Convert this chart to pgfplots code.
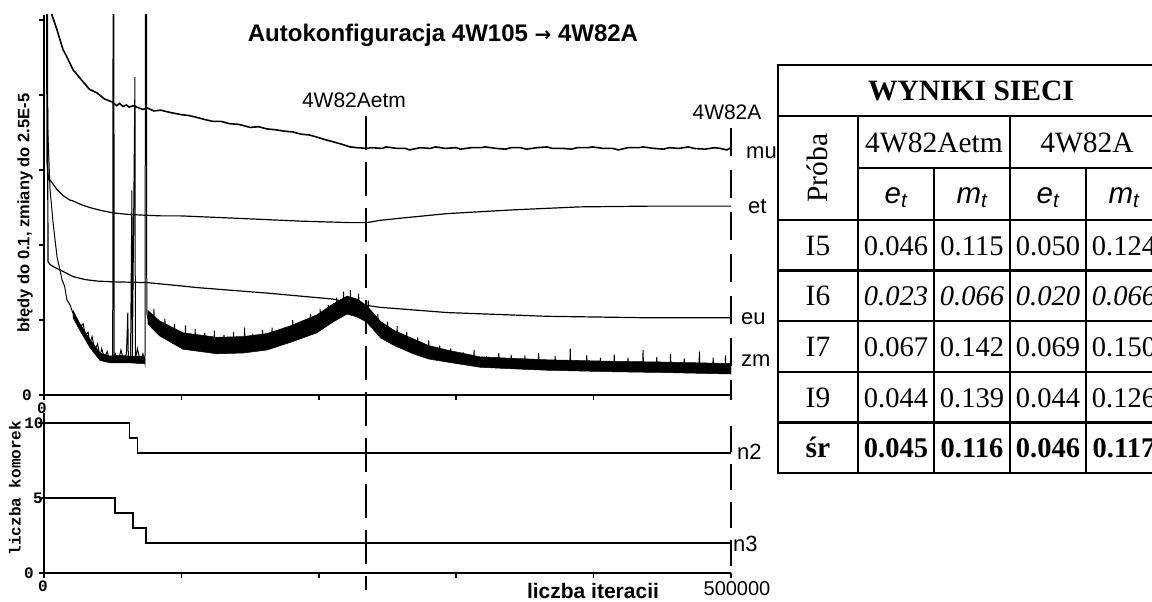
\documentclass[border=0pt]{standalone}
\usepackage{fontspec}
\setmainfont{Liberation Sans}
\newfontfamily\tabfont{Liberation Serif}
\newfontfamily\monofont{Liberation Mono}
\newfontfamily\arrowfont{DejaVu Sans}
\usepackage{pgfplots}
\pgfplotsset{compat=1.18}

% sizes in pt = pixels of the reference
\newcommand\lab{\fontsize{22pt}{26pt}\selectfont}
\newcommand\tic{\monofont\bfseries\fontsize{16pt}{18pt}\selectfont}
\newcommand\tf{\tabfont\fontsize{29.5pt}{32pt}\selectfont}
\newcommand\tn{\tabfont\fontsize{28.5pt}{32pt}\selectfont}
\newcommand\et{{\fontsize{29.5pt}{32pt}\selectfont\itshape e\textsubscript{t}}}
\newcommand\mt{{\fontsize{29.5pt}{32pt}\selectfont\itshape m\textsubscript{t}}}

\pgfplotsset{
  trace/.style={
    scale only axis, width=687pt,
    xmin=0, xmax=500000,
    axis x line=bottom, axis y line=left,
    axis line style={-, line width=1.5pt},
    tick align=outside, major tick length=5pt,
    tick style={black, line width=1.5pt},
    xtick={0,100000,200000,300000,400000,500000},
    xticklabel=\empty, yticklabel=\empty,
    scaled x ticks=false,
  },
}

\begin{document}
\begin{tikzpicture}
\path[use as bounding box] (0,0) rectangle (1152pt,-602pt);

% upper axis: errors and changes
\begin{axis}[trace, at={(44pt,-395pt)}, anchor=south west,
  height=380pt, ymin=0, ymax=5.07, ytick={0,1,2,3,4,5}]

% mu
\addplot[black, line width=1.6pt] coordinates {
  (4000,5.6) (5800,5.07) (9500,4.87) (13800,4.61) (16700,4.51) (21100,4.34)
  (28400,4.18) (33000,4.08) (38600,4.03) (44000,3.95) (49500,3.91) (53000,3.86)
  (55000,3.89) (57500,3.85) (60000,3.87) (62000,3.84) (65000,3.86) (67700,3.84)
  (72000,3.81) (75000,3.83) (80000,3.79) (85000,3.80) (91700,3.77) (100000,3.74)
  (105000,3.73) (110000,3.71) (116000,3.68) (123000,3.65) (129000,3.65)
  (135000,3.62) (142000,3.61) (150000,3.57) (156000,3.58) (162300,3.55)
  (168000,3.54) (175000,3.52) (181000,3.51) (187000,3.48) (193000,3.47)
  (198700,3.44) (204000,3.41) (210000,3.38) (216000,3.35) (222700,3.31)
  (228000,3.30) (235000,3.29) (238000,3.30) (246000,3.29) (249000,3.31)
  (257000,3.29) (263000,3.29) (266000,3.27) (274000,3.30) (281000,3.29)
  (285000,3.31) (292000,3.29) (300000,3.30) (303000,3.28) (311000,3.30)
  (318000,3.30) (321000,3.31) (329000,3.29) (336000,3.28) (340000,3.30)
  (347000,3.30) (351000,3.28) (359000,3.30) (366000,3.31) (370000,3.29)
  (378000,3.29) (384000,3.28) (388000,3.30) (396000,3.30) (399000,3.31)
  (407000,3.29) (414000,3.29) (418000,3.27) (425000,3.30) (433000,3.30)
  (436000,3.31) (444000,3.29) (451000,3.28) (455000,3.30) (462000,3.29)
  (469000,3.31) (473000,3.29) (481000,3.28) (488000,3.30) (492000,3.29)
  (497000,3.27) (500000,3.30)
};

% et
\addplot[black, line width=1.2pt] coordinates {
  (0,6) (1800,6) (2200,3.10) (3300,2.87) (4400,2.87) (9500,2.74) (14000,2.66)
  (18900,2.60) (21100,2.59) (27000,2.54) (33500,2.50) (42000,2.46) (50200,2.43)
  (61000,2.41) (72000,2.40) (85000,2.39) (99000,2.39) (137600,2.36)
  (186300,2.32) (222700,2.30) (235000,2.30) (244500,2.33) (260000,2.36)
  (293300,2.42) (341300,2.47) (390100,2.51) (441000,2.52) (500000,2.52)
};

% eu
\addplot[black, line width=1.2pt] coordinates {
  (0,6) (2400,6) (2900,1.78) (4400,1.74) (8000,1.70) (11600,1.67) (21100,1.58)
  (30000,1.54) (38600,1.52) (50200,1.51) (75000,1.50) (91700,1.47)
  (113500,1.43) (162300,1.36) (210300,1.28) (224900,1.22) (244500,1.17)
  (293300,1.10) (366100,1.05) (441000,1.03) (500000,1.03)
};

% zm, dark body of the noisy band (upper edge, then lower edge back)
\addplot[fill=black, draw=black, line width=0.5pt] coordinates {
  (21100,1.13) (26200,0.95) (33500,0.74) (40800,0.56) (48000,0.52)
  (55000,0.53) (62000,0.52) (70000,0.52) (73500,0.50)
  (73500,0.42) (70000,0.42) (62000,0.43) (55000,0.43) (48000,0.43)
  (40800,0.46) (33500,0.63) (26200,0.86) (21100,1.03)
};
\addplot[fill=black, draw=black, line width=0.5pt] coordinates {
  (75500,1.13) (84000,0.99) (101200,0.83) (125900,0.77) (145000,0.78)
  (162300,0.82) (179000,0.92) (198700,1.07) (210000,1.21) (220500,1.32)
  (228000,1.28) (235000,1.19) (245000,0.98) (255000,0.86) (268600,0.75)
  (280000,0.66) (293300,0.60) (317300,0.51) (340000,0.49) (366100,0.47)
  (414100,0.45) (450000,0.44) (500000,0.42)
  (500000,0.28) (450000,0.30) (414100,0.31) (366100,0.33) (340000,0.35)
  (317300,0.37) (293300,0.44) (280000,0.48) (268600,0.55) (255000,0.66)
  (245000,0.76) (235000,0.97) (228000,1.04) (220500,1.08) (210000,0.97)
  (198700,0.83) (179000,0.70) (162300,0.60) (145000,0.56) (125900,0.55)
  (101200,0.61) (84000,0.79) (75500,0.95)
};
% zm, iteration by iteration: the steep start, the jumps, then narrow spikes
\addplot[black, line width=1pt] coordinates {
  (0,6) (2000,6) (2600,3.6) (4400,2.74) (6600,2.30) (9500,1.84) (11000,1.72)
  (13100,1.54) (15000,1.45) (16700,1.27) (19000,1.20) (21100,1.09)
  (23500,1.00) (26200,0.91) (28500,0.95) (30000,0.80) (32000,0.84)
  (33500,0.69) (35000,0.78) (37000,0.60) (39000,0.68) (40800,0.51)
  (42000,0.62) (44000,0.48) (46000,0.58) (48000,0.45) (50000,0.47)
  (50300,6) (50900,6) (51000,0.50) (52000,0.55) (54000,0.45) (56000,0.60)
  (58000,0.46) (60000,0.55) (61000,1.10) (61400,0.45) (63000,0.52)
  (64000,2.73) (64300,0.46) (66200,4.24) (66500,0.48) (68000,0.62)
  (70000,0.45) (72000,0.55) (73500,0.42) (73900,6) (74600,6) (74800,1.09)
  (76000,1.00) (78000,1.02)
  (79700,0.96) (80000,1.15) (80300,0.96)   (87700,0.85) (88000,1.02) (88300,0.85)
  (94700,0.78) (95000,0.95) (95300,0.78)   (102700,0.71) (103000,0.93) (103300,0.71)
  (109700,0.69) (110000,0.88) (110300,0.69) (116700,0.68) (117000,0.83) (117300,0.68)
  (123700,0.66) (124000,0.86) (124300,0.66) (130700,0.66) (131000,0.80) (131300,0.66)
  (137700,0.66) (138000,0.84) (138300,0.66) (145700,0.67) (146000,0.90) (146300,0.67)
  (151700,0.69) (152000,0.82) (152300,0.69) (158700,0.70) (159000,0.87) (159300,0.70)
  (165700,0.73) (166000,0.90) (166300,0.73) (172700,0.77) (173000,0.88) (173300,0.77)
  (180700,0.82) (181000,1.00) (181300,0.82) (187700,0.87) (188000,0.99) (188300,0.87)
  (193700,0.92) (194000,1.08) (194300,0.92) (200700,0.98) (201000,1.15) (201300,0.98)
  (206700,1.05) (207000,1.20) (207300,1.05) (212700,1.12) (213000,1.30) (213300,1.12)
  (217700,1.17) (218000,1.38) (218300,1.17) (222700,1.19) (223000,1.40) (223300,1.19)
  (228700,1.15) (229000,1.35) (229300,1.15) (235700,1.06) (236000,1.26) (236300,1.06)
  (242700,0.91) (243000,1.08) (243300,0.91) (249700,0.81) (250000,0.98) (250300,0.81)
  (256700,0.74) (257000,0.92) (257300,0.74) (263700,0.69) (264000,0.84) (264300,0.69)
  (271700,0.62) (272000,0.77) (272300,0.62) (279700,0.57) (280000,0.73) (280300,0.57)
  (287700,0.54) (288000,0.66) (288300,0.54) (295700,0.51) (296000,0.62) (296300,0.51)
  (304700,0.48) (305000,0.57) (305300,0.48) (312700,0.45) (313000,0.60) (313300,0.45)
  (321700,0.44) (322000,0.52) (322300,0.44) (330700,0.43) (331000,0.56) (331300,0.43)
  (339700,0.42) (340000,0.54) (340300,0.42) (349700,0.41) (350000,0.53) (350300,0.41)
  (359700,0.40) (360000,0.56) (360300,0.40) (371700,0.40) (372000,0.52) (372300,0.40)
  (382700,0.39) (383000,0.62) (383300,0.39) (394700,0.39) (395000,0.53) (395300,0.39)
  (404700,0.38) (405000,0.50) (405300,0.38) (414700,0.38) (415000,0.54) (415300,0.38)
  (424700,0.38) (425000,0.50) (425300,0.38) (435700,0.37) (436000,0.60) (436300,0.37)
  (445700,0.37) (446000,0.51) (446300,0.37) (455700,0.37) (456000,0.55) (456300,0.37)
  (465700,0.36) (466000,0.49) (466300,0.36) (476700,0.36) (477000,0.58) (477300,0.36)
  (486700,0.35) (487000,0.50) (487300,0.35) (495700,0.35) (496000,0.53) (496300,0.35)
  (500000,0.35)
};
\end{axis}

% lower axis: number of cells
\begin{axis}[trace, at={(44pt,-573pt)}, anchor=south west,
  height=160pt, ymin=0, ymax=10.67, ytick={0,5,10}]
\addplot[const plot, black, line width=1.2pt] coordinates {
  (0,10) (62000,9) (68000,8) (500000,8)
};
\addplot[const plot, black, line width=1.2pt] coordinates {
  (0,5) (51700,4) (64800,3) (74200,2) (500000,2)
};
\end{axis}

% marker lines of the two saved networks
\draw[line width=1.5pt, dash pattern=on 34pt off 12pt] (366pt,-116pt) -- (366pt,-590pt);
\draw[line width=1.5pt, dash pattern=on 28pt off 14pt] (731pt,-128pt) -- (731pt,-395pt);
\draw[line width=1.5pt, dash pattern=on 26pt off 12pt] (731pt,-426pt) -- (731pt,-573pt);

% texts of the chart
\node[anchor=base, inner sep=0pt, font=\bfseries\fontsize{24pt}{28pt}\selectfont]
  at (443pt,-42pt) {Autokonfiguracja 4W105 {\arrowfont\bfseries\fontsize{20pt}{24pt}\selectfont →} 4W82A};
\node[anchor=base, inner sep=0pt, font=\fontsize{21pt}{24pt}\selectfont] at (354pt,-107pt) {4W82Aetm};
\node[anchor=base, inner sep=0pt, font=\fontsize{21pt}{24pt}\selectfont] at (727pt,-120pt) {4W82A};
\node[anchor=base west, inner sep=0pt, font=\lab] at (746pt,-158pt) {mu};
\node[anchor=base west, inner sep=0pt, font=\lab] at (748pt,-213pt) {et};
\node[anchor=base west, inner sep=0pt, font=\lab] at (741pt,-324pt) {eu};
\node[anchor=base west, inner sep=0pt, font=\lab] at (741pt,-366pt) {zm};
\node[anchor=base west, inner sep=0pt, font=\lab] at (737pt,-459pt) {n2};
\node[anchor=base west, inner sep=0pt, font=\lab] at (733pt,-551pt) {n3};
\node[anchor=base, inner sep=0pt, font=\fontsize{20pt}{22pt}\selectfont] at (737pt,-595pt) {500000};
\node[anchor=base, inner sep=0pt, font=\bfseries\fontsize{21pt}{26pt}\selectfont] at (593pt,-598pt) {liczba iteracii};
\node[rotate=90, inner sep=0pt, font=\bfseries\fontsize{16.5pt}{20pt}\selectfont] at (25pt,-213pt) {błędy do 0.1, zmiany do 2.5E-5};
\node[rotate=90, inner sep=0pt, font=\tic] at (15pt,-488pt) {liczba komorek};
\node[inner sep=0pt, font=\tic] at (27pt,-395pt) {0};
\node[inner sep=0pt, font=\tic] at (42pt,-408pt) {0};
\node[inner sep=0pt, font=\tic] at (34pt,-423pt) {10};
\node[inner sep=0pt, font=\tic] at (38pt,-498pt) {5};
\node[inner sep=0pt, font=\tic] at (29pt,-573pt) {0};
\node[inner sep=0pt, font=\tic] at (43pt,-586pt) {0};

% results table
\begin{scope}[line width=2.5pt]
\draw (778pt,-65pt) rectangle (1164pt,-473pt);
\draw (778pt,-116pt) -- (1164pt,-116pt);
\draw (858pt,-168pt) -- (1164pt,-168pt);
\foreach \y in {220,270.6,321.2,371.8,422.4}
  \draw (778pt,-\y pt) -- (1164pt,-\y pt);
\draw (858pt,-116pt) -- (858pt,-473pt);
\draw (1010pt,-116pt) -- (1010pt,-473pt);
\draw (934pt,-168pt) -- (934pt,-473pt);
\draw (1086pt,-168pt) -- (1086pt,-473pt);
\end{scope}
\node[anchor=base, inner sep=0pt, font=\tf\bfseries] at (971pt,-100.5pt) {WYNIKI SIECI};
\node[rotate=90, inner sep=0pt, font=\tf] at (817pt,-168pt) {Próba};
\node[anchor=base, inner sep=0pt, font=\tf] at (934pt,-152pt) {4W82Aetm};
\node[anchor=base, inner sep=0pt, font=\tf] at (1087pt,-152pt) {4W82A};
\node[anchor=base, inner sep=0pt] at (896pt,-203pt) {\et};
\node[anchor=base, inner sep=0pt] at (972pt,-203pt) {\mt};
\node[anchor=base, inner sep=0pt] at (1048pt,-203pt) {\et};
\node[anchor=base, inner sep=0pt] at (1124pt,-203pt) {\mt};
\foreach \r/\y/\a/\b/\c/\d in {I5/255.3/0.046/0.115/0.050/0.124,
                               I7/356.5/0.067/0.142/0.069/0.150,
                               I9/407.1/0.044/0.139/0.044/0.126}{
  \node[anchor=base, inner sep=0pt, font=\tf] at (818pt,-\y pt) {\r};
  \node[anchor=base, inner sep=0pt, font=\tn] at (896pt,-\y pt) {\a};
  \node[anchor=base, inner sep=0pt, font=\tn] at (972pt,-\y pt) {\b};
  \node[anchor=base, inner sep=0pt, font=\tn] at (1048pt,-\y pt) {\c};
  \node[anchor=base, inner sep=0pt, font=\tn] at (1124pt,-\y pt) {\d};
}
\node[anchor=base, inner sep=0pt, font=\tf] at (818pt,-305.9pt) {I6};
\node[anchor=base, inner sep=0pt, font=\tn\itshape] at (896pt,-305.9pt) {0.023};
\node[anchor=base, inner sep=0pt, font=\tn\itshape] at (972pt,-305.9pt) {0.066};
\node[anchor=base, inner sep=0pt, font=\tn\itshape] at (1048pt,-305.9pt) {0.020};
\node[anchor=base, inner sep=0pt, font=\tn\itshape] at (1124pt,-305.9pt) {0.066};
\node[anchor=base, inner sep=0pt, font=\tf\bfseries] at (818pt,-457.7pt) {śr};
\node[anchor=base, inner sep=0pt, font=\tn\bfseries] at (896pt,-457.7pt) {0.045};
\node[anchor=base, inner sep=0pt, font=\tn\bfseries] at (972pt,-457.7pt) {0.116};
\node[anchor=base, inner sep=0pt, font=\tn\bfseries] at (1048pt,-457.7pt) {0.046};
\node[anchor=base, inner sep=0pt, font=\tn\bfseries] at (1124pt,-457.7pt) {0.117};
\end{tikzpicture}
\end{document}
